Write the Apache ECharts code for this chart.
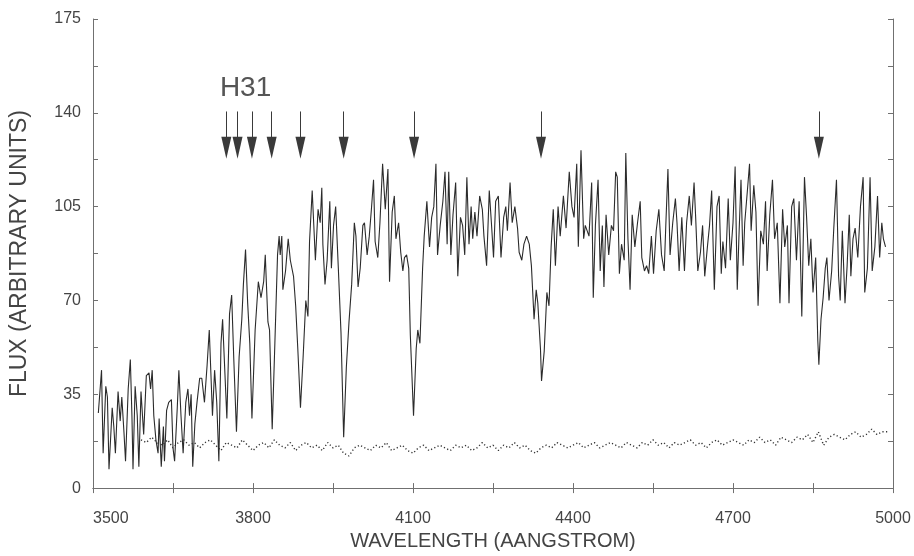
<!DOCTYPE html>
<html>
<head>
<meta charset="utf-8">
<script src="https://cdn.jsdelivr.net/npm/echarts@6/dist/echarts.min.js"></script>
<style>
  html, body { margin: 0; padding: 0; background: #fff; }
  #chart { width: 914px; height: 556px; }
</style>
</head>
<body>
<div id="chart"></div>
<script>
// spectrum: wavelength (Å) and flux
var wl = [3510,3516,3519,3524,3527,3530,3536,3539,3542,3547,3551,3554,3558,3561,3566,3570,3573,3575,3579,3583,3586,3590,3595,3600,3605,3608,3611,3614,3618,3622,3624,3628,3632,3634,3638,3642,3647,3650,3653,3658,3661,3665,3669,3674,3678,3681,3684,3687,3691,3695,3700,3704,3709,3714,3718,3721,3724,3728,3732,3736,3740,3743,3746,3751,3756,3760,3764,3769,3774,3779,3782,3786,3790,3794,3798,3804,3810,3815,3820,3823,3828,3831,3836,3841,3846,3849,3851,3854,3856,3861,3866,3870,3876,3880,3884,3889,3894,3899,3903,3906,3911,3914,3917,3922,3926,3929,3931,3935,3939,3944,3947,3951,3955,3960,3965,3970,3975,3980,3985,3990,3993,3997,4001,4006,4009,4014,4018,4022,4026,4029,4034,4038,4043,4048,4053,4056,4061,4065,4068,4073,4077,4081,4084,4088,4092,4095,4101,4106,4109,4113,4118,4121,4126,4131,4135,4139,4143,4146,4151,4156,4160,4164,4167,4171,4175,4180,4184,4189,4193,4197,4201,4205,4209,4212,4216,4220,4225,4230,4233,4238,4243,4247,4251,4255,4260,4265,4270,4274,4277,4282,4286,4291,4296,4299,4304,4308,4313,4318,4322,4327,4331,4334,4339,4341,4346,4351,4355,4359,4363,4367,4372,4376,4382,4387,4393,4398,4402,4407,4410,4415,4420,4423,4430,4435,4438,4442,4447,4451,4455,4458,4462,4467,4472,4476,4480,4483,4487,4491,4496,4499,4503,4507,4511,4516,4521,4526,4529,4534,4538,4542,4547,4551,4556,4561,4566,4571,4574,4578,4582,4587,4592,4595,4599,4604,4609,4613,4618,4622,4627,4630,4634,4639,4643,4647,4652,4656,4660,4665,4670,4674,4678,4681,4686,4691,4695,4700,4704,4708,4711,4715,4719,4722,4727,4731,4734,4739,4743,4747,4752,4757,4761,4764,4769,4774,4778,4783,4788,4793,4797,4802,4805,4810,4814,4819,4824,4829,4834,4838,4842,4846,4850,4855,4859,4861,4865,4869,4873,4876,4880,4885,4889,4894,4898,4901,4905,4910,4914,4918,4921,4925,4929,4934,4939,4944,4947,4952,4957,4961,4966,4971,4975,4979,4982,4986];
var flux = [28,44,13,38,34,7,30,23,13,36,25,34,21,10,37,48,27,7,38,27,8,36,20,42,43,37,44,27,18,13,26,8,23,10,29,32,33,15,10,30,44,27,13,32,37,27,35,8,24,32,41,41,32,46,59,43,27,44,32,10,54,63,49,26,65,72,48,21,49,63,76,89,69,54,26,59,77,71,77,87,62,59,22,54,87,94,87,94,74,81,93,85,79,68,52,30,49,70,64,92,111,98,85,104,99,112,91,76,85,107,82,98,105,82,58,19,45,62,76,99,94,75,82,98,99,87,94,104,115,92,86,99,121,104,119,77,103,109,93,99,88,81,86,87,82,57,27,52,59,54,82,94,107,90,101,105,121,87,98,107,118,91,118,87,102,114,79,101,98,87,116,91,105,93,103,94,109,104,94,83,111,99,86,107,109,86,101,105,96,114,99,105,97,88,85,91,94,91,83,63,74,69,52,40,51,73,68,90,104,83,105,94,109,97,118,105,101,121,90,126,93,98,94,114,71,98,115,81,98,75,102,87,98,96,118,116,80,91,85,125,93,74,102,90,99,107,86,81,83,80,94,80,96,104,87,81,98,119,87,99,108,99,81,101,81,99,109,98,114,101,81,88,98,79,90,98,111,74,105,109,80,92,82,108,85,99,120,74,93,115,83,99,111,121,96,113,103,68,96,91,107,81,102,115,93,99,69,104,90,98,69,105,108,85,107,64,116,101,83,93,73,86,55,46,63,71,82,86,70,81,97,115,79,70,96,69,83,102,79,93,97,86,105,116,73,82,116,81,90,109,86,99,93,90];

// error spectrum (dotted), every 10 Å from 3590
var noiseStart = 3590;
var noiseStep = 10;
var noise = [18,17,19,17,16,18,15,17,18,16,17,
  15,17,18,16,14,17,16,15,18,16,
  14,16,17,15,18,16,15,17,14,16,
  17,15,16,14,17,15,16,13,12,15,
  16,15,14,16,15,17,14,15,16,14,
  13,15,16,14,15,16,15,14,16,15,
  16,14,15,17,15,16,14,16,15,17,
  15,16,14,13,15,16,15,17,16,15,
  16,17,15,16,17,15,16,17,16,15,
  17,16,15,17,16,18,16,17,15,17,
  16,17,18,16,17,15,17,18,16,17,
  18,17,16,18,17,19,17,18,16,19,
  18,17,19,18,20,17,21,16,19,20,
  19,18,20,21,19,20,22,20,21,21];

// balmer line markers
var lineWl = [3750, 3771, 3798, 3835, 3889, 3970, 4102, 4340, 4861];
var arrowTop = 140.5;
var arrowEnd = 127;
var labelText = "H31";
var labelPos = [3737, 149];

var xTicks = [3500, 5000, 150];
var yTicks = [0, 175, 17.5];

var specData = [];
for (var i = 0; i < wl.length; i++) specData.push([wl[i], flux[i]]);
var noiseData = [];
for (var j = 0; j < noise.length; j++) noiseData.push([noiseStart + j * noiseStep, noise[j]]);
var arrows = [];
for (var k = 0; k < lineWl.length; k++) {
  arrows.push([{ coord: [lineWl[k], arrowTop] }, { coord: [lineWl[k], arrowEnd] }]);
}

var font = "Liberation Sans";
var frame = { show: true, lineStyle: { color: "#707070", width: 1 } };
var tick = { show: true, inside: true, length: 5, lineStyle: { color: "#707070" } };

var myChart = echarts.init(document.getElementById("chart"));
var option = {
  animation: false,
  grid: { left: 91, right: 21, top: 19, bottom: 58 },
  xAxis: [
    {
      type: "value",
      min: xTicks[0], max: xTicks[1], interval: xTicks[2],
      axisLine: frame, axisTick: tick, splitLine: { show: false },
      axisLabel: {
        color: "#444", fontFamily: font, fontSize: 16, margin: 22,
        alignMinLabel: "left",
        formatter: function (v) { return (v - 3500) % 300 === 0 ? String(v) : ""; }
      },
      name: "WAVELENGTH (AANGSTROM)",
      nameLocation: "middle", nameGap: 41,
      nameTextStyle: { color: "#444", fontFamily: font, fontSize: 20 }
    },
    {
      type: "value", position: "top",
      min: xTicks[0], max: xTicks[1], interval: xTicks[2],
      axisLine: frame, axisTick: tick, axisLabel: { show: false }, splitLine: { show: false }
    }
  ],
  yAxis: [
    {
      type: "value",
      min: yTicks[0], max: yTicks[1], interval: yTicks[2],
      axisLine: frame, axisTick: tick, splitLine: { show: false },
      axisLabel: {
        color: "#444", fontFamily: font, fontSize: 16, margin: 12,
        formatter: function (v) { return Math.abs(v % 35) < 1e-6 ? String(Math.round(v)) : ""; }
      },
      name: "FLUX (ARBITRARY UNITS)",
      nameLocation: "middle", nameGap: 62,
      nameTextStyle: { color: "#444", fontFamily: font, fontSize: 23 }
    },
    {
      type: "value", position: "right",
      min: yTicks[0], max: yTicks[1], interval: yTicks[2],
      axisLine: frame, axisTick: tick, axisLabel: { show: false }, splitLine: { show: false }
    }
  ],
  series: [
    {
      type: "line",
      data: specData,
      showSymbol: false,
      lineStyle: { color: "#2b2b2b", width: 1.1 },
      markLine: {
        silent: true,
        symbol: ["none", "triangle"],
        symbolSize: [10, 22],
        label: { show: false },
        lineStyle: { color: "#3a3a3a", width: 1, type: "solid" },
        data: arrows
      },
      markPoint: {
        silent: true,
        symbol: "rect",
        symbolSize: 1,
        itemStyle: { color: "rgba(0,0,0,0)" },
        label: {
          show: true, position: "right", distance: 0,
          color: "#555", fontFamily: font, fontSize: 28,
          formatter: labelText
        },
        data: [{ coord: labelPos }]
      }
    },
    {
      type: "line",
      data: noiseData,
      showSymbol: false,
      lineStyle: { color: "#333", width: 1.4, type: [1.2, 2.4] }
    }
  ]
};
myChart.setOption(option, true);
window.addEventListener("resize", () => {
  myChart.resize();
});
</script>
</body>
</html>
